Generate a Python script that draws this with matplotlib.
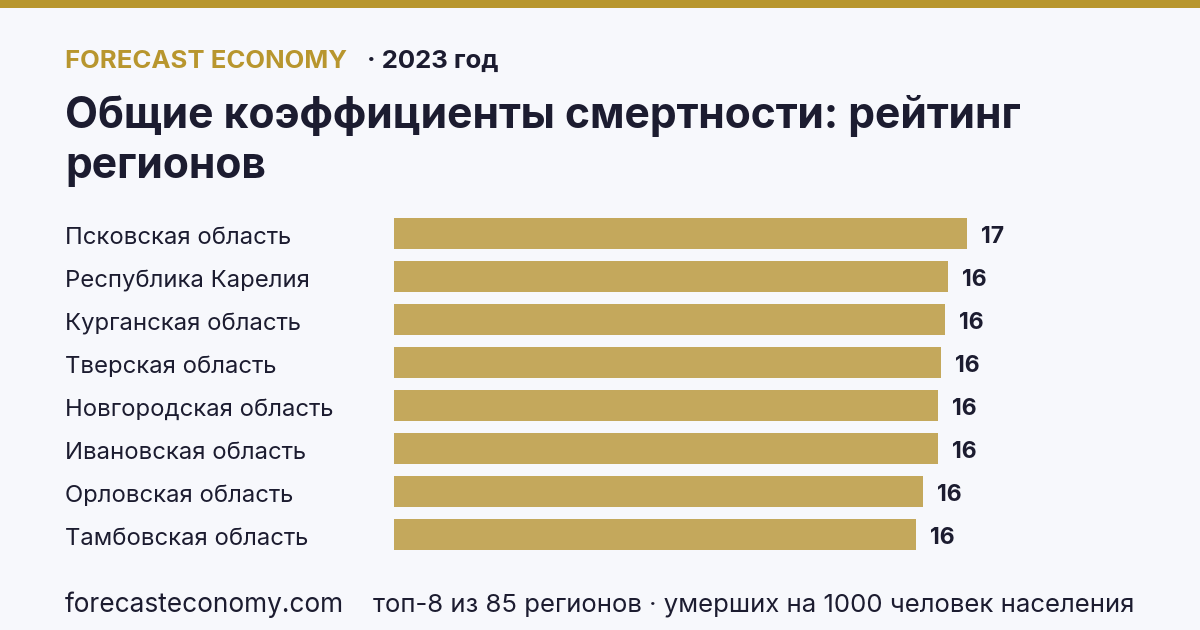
import matplotlib
matplotlib.use("Agg")
import matplotlib.pyplot as plt
from matplotlib.patches import Rectangle

plt.rcParams['font.family'] = ['Inter', 'DejaVu Sans']

regions = ["Псковская область", "Республика Карелия", "Курганская область",
           "Тверская область", "Новгородская область", "Ивановская область",
           "Орловская область", "Тамбовская область"]
values = [16.9, 16.4, 16.3, 16.2, 16.1, 16.1, 15.7, 15.5]

BG = "#F7F8FC"
GOLD = "#B8962E"
BAR = "#C4A85C"
DARK = "#1C1C30"

W, H = 1200, 630
fig = plt.figure(figsize=(W / 100, H / 100), dpi=100, facecolor=BG)

# top band
fig.patches.append(Rectangle((0, 1 - 8 / H), 1, 8 / H, transform=fig.transFigure,
                             facecolor=GOLD, edgecolor="none"))

# header
fig.text(65 / W, 1 - 61 / H, "FORECAST ECONOMY", color=GOLD, fontsize=18.5,
         fontweight="bold", va="center", ha="left")
fig.text(367 / W, 1 - 61 / H, "· 2023 год", color=DARK, fontsize=18.5,
         fontweight="bold", va="center", ha="left")
fig.text(65 / W, 1 - 116 / H, "Общие коэффициенты смертности: рейтинг", color=DARK,
         fontsize=30.7, fontweight="bold", va="center", ha="left")
fig.text(65 / W, 1 - 167 / H, "регионов", color=DARK,
         fontsize=30.7, fontweight="bold", va="center", ha="left")

# axes
left_px, right_px = 394, 1136
top_px, bot_px = 211.7, 555.7
ax = fig.add_axes([left_px / W, 1 - bot_px / H, (right_px - left_px) / W,
                   (bot_px - top_px) / H])
ax.set_facecolor("none")
n = len(values)
ypos = list(range(n))
ax.barh(ypos, values, height=0.714, color=BAR, edgecolor="none")
ax.set_ylim(n - 0.5, -0.5)
x0 = 1.18
px_per_unit = 36.43
ax.set_xlim(x0, x0 + (right_px - left_px) / px_per_unit)
for s in ax.spines.values():
    s.set_visible(False)
ax.set_xticks([])
ax.set_yticks([])

lab_x = -(left_px - 65) / (right_px - left_px)
for i, (r, v) in enumerate(zip(regions, values)):
    ax.annotate(r, xy=(lab_x, i), xycoords=ax.get_yaxis_transform(),
                xytext=(0, -5), textcoords="offset pixels",
                ha="left", va="center", fontsize=17.2, color=DARK)
    ax.annotate(f"{v:.0f}", xy=(v, i), xytext=(14, -4), textcoords="offset pixels",
                ha="left", va="center", fontsize=16.5, fontweight="bold", color=DARK)

# footer
fig.text(65 / W, 1 - 605 / H, "forecasteconomy.com", color=DARK, fontsize=18.9,
         va="center", ha="left")
fig.text(373 / W, 1 - 605 / H, "топ-8 из 85 регионов · умерших на 1000 человек населения",
         color=DARK, fontsize=18.5, va="center", ha="left")

fig.savefig("out.png", dpi=100, facecolor=BG)
